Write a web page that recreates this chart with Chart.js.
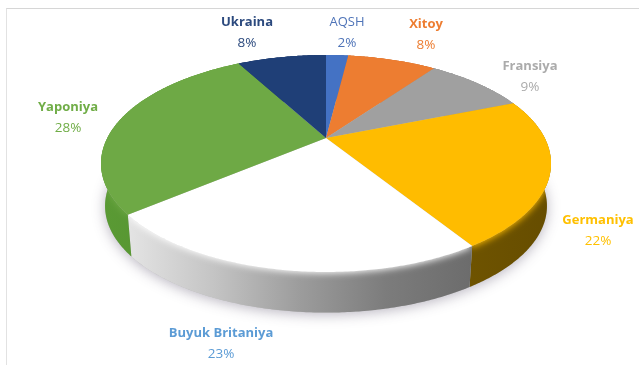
<!DOCTYPE html>
<html>
<head>
<meta charset="utf-8">
<title>Ulush</title>
<script src="https://cdn.jsdelivr.net/npm/chart.js@4"></script>
<style>
    html, body { margin: 0; padding: 0; background: #fff; overflow: hidden; }
    #frame { position: absolute; left: 6px; top: 8px; right: 0; bottom: 0; border-top: 1px solid #d6d6d6; border-left: 1px solid #e2e2e2; }
    #pie { position: absolute; left: 0; top: 0; }
</style>
</head>
<body>
<div id="frame"></div>
<canvas id="pie" width="639" height="365"></canvas>
<script>
const categories = ['AQSH', 'Xitoy', 'Fransiya', 'Germaniya', 'Buyuk Britaniya', 'Yaponiya', 'Ukraina'];
const shares = [2, 8, 9, 22, 23, 28, 8];
const sliceColors = ['#4472c4', '#ed7d31', '#a0a0a0', '#ffbc00', '#ffffff', '#6ea945', '#1f3f77'];
const labelColors = ['#4f74b8', '#ed7d31', '#ababab', '#ffc000', '#5b9bd5', '#70ad47', '#2c4a7e'];
const labelWeights = ['normal', 'bold', 'bold', 'bold', 'bold', 'bold', 'bold'];

// side wall colours, left to right across each slice
const wallStops = [
    ['#2f5597', '#2f5597'],
    ['#a85820', '#a85820'],
    ['#6e6e6e', '#6e6e6e'],
    ['#6e5300', '#664d00'],
    ['#e4e4e4', '#c4c4c4', '#9c9c9c', '#7c7c7c', '#6c6c6c'],
    ['#5a9a34', '#528f2e'],
    ['#152c54', '#152c54']
];

// label centres: name line, percent line sits below it
const labelSpots = [
    [347, 22], [426, 24], [530, 66], [598, 220], [221, 333], [68, 107], [247, 22]
];

// perspective of the tilted disc
const apex = { x: 326, y: 138 };
const rx = 218.7, ry = 102.5, tilt = 0.235, depth = 43, wallShrink = 0.982;

function project(angle, drop, shrink) {
    const u = Math.cos(angle), v = Math.sin(angle);
    const w = 1 - tilt * v;
    return {
        x: apex.x + shrink * rx * u / w,
        y: apex.y + drop + shrink * ry * v / w
    };
}

function rimPoints(a0, a1, drop, shrink) {
    const n = Math.max(2, Math.ceil((a1 - a0) / 0.01));
    const pts = [];
    for (let i = 0; i <= n; i++) {
        pts.push(project(a0 + (a1 - a0) * i / n, drop, shrink));
    }
    return pts;
}

function tracePath(ctx, pts) {
    ctx.beginPath();
    pts.forEach((p, i) => i ? ctx.lineTo(p.x, p.y) : ctx.moveTo(p.x, p.y));
    ctx.closePath();
}

const disc3d = {
    id: 'disc3d',
    // arcs are laid out by the pie controller, this only changes how they are painted
    beforeDatasetsDraw(chart) {
        const ctx = chart.ctx;
        const arcs = chart.getDatasetMeta(0).data;

        // soft shadow under the whole disc
        ctx.save();
        ctx.shadowColor = 'rgba(70,60,90,0.38)';
        ctx.shadowBlur = 13;
        ctx.shadowOffsetY = 2;
        ctx.fillStyle = '#bbb';
        tracePath(ctx, rimPoints(0, Math.PI * 2, depth, wallShrink));
        ctx.fill();
        ctx.restore();

        // walls, with the face colour bleeding softly over the upper edge of each
        arcs.forEach((arc, i) => {
            const top = rimPoints(arc.startAngle, arc.endAngle, 0, 1);
            const bottom = rimPoints(arc.startAngle, arc.endAngle, depth, wallShrink);
            const xs = top.map(p => p.x);
            const stops = wallStops[i];
            const grad = ctx.createLinearGradient(Math.min(...xs), 0, Math.max(...xs), 0);
            stops.forEach((c, k) => grad.addColorStop(k / (stops.length - 1), c));

            ctx.save();
            tracePath(ctx, top.concat(bottom.reverse()));
            ctx.fillStyle = grad;
            ctx.fill();
            ctx.clip();
            ctx.shadowColor = sliceColors[i];
            ctx.shadowBlur = 7;
            ctx.shadowOffsetY = 1;
            ctx.fillStyle = sliceColors[i];
            tracePath(ctx, [apex].concat(rimPoints(arc.startAngle, arc.endAngle, 0, 1)));
            ctx.fill();
            ctx.restore();
        });

        // top faces
        arcs.forEach((arc, i) => {
            ctx.fillStyle = arc.options.backgroundColor;
            tracePath(ctx, [apex].concat(rimPoints(arc.startAngle, arc.endAngle, 0, 1)));
            ctx.fill();
        });

        // labels
        ctx.textAlign = 'center';
        ctx.textBaseline = 'middle';
        categories.forEach((name, i) => {
            const [x, y] = labelSpots[i];
            ctx.fillStyle = labelColors[i];
            ctx.font = labelWeights[i] + ' 13px "Open Sans", sans-serif';
            ctx.fillText(name, x, y);
            ctx.font = '13.5px "Open Sans", sans-serif';
            ctx.fillText(shares[i] + '%', x, y + 21);
        });
        return false;
    }
};

new Chart(document.getElementById('pie'), {
    type: 'pie',
    data: {
        labels: categories,
        datasets: [{ data: shares, backgroundColor: sliceColors, borderWidth: 0 }]
    },
    options: {
        responsive: false,
        animation: false,
        plugins: { legend: { display: false }, tooltip: { enabled: false } }
    },
    plugins: [disc3d]
});
</script>
</body>
</html>
